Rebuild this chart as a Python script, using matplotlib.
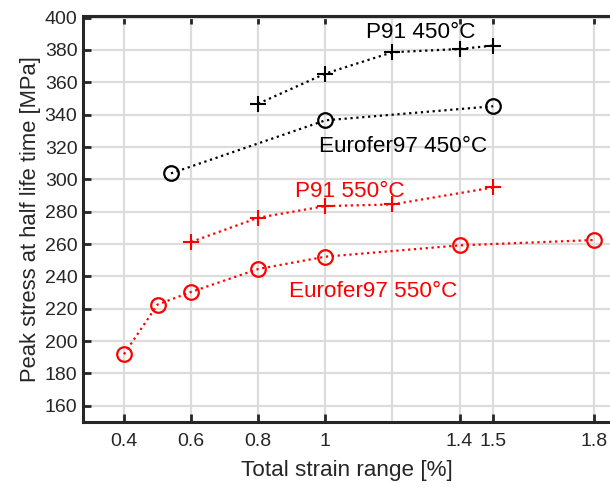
import matplotlib
matplotlib.use("Agg")
import matplotlib.pyplot as plt
from matplotlib.ticker import FixedLocator

plt.rcParams['font.family'] = ['Liberation Sans', 'DejaVu Sans']

# Data
p91_450_x = [0.8, 1.0, 1.2, 1.4, 1.5]
p91_450_y = [346.8, 365.4, 378.6, 380.6, 382.7]
eu_450_x = [0.54, 1.0, 1.5]
eu_450_y = [303.7, 336.5, 345.2]
p91_550_x = [0.6, 0.8, 1.0, 1.2, 1.5]
p91_550_y = [261.3, 276.3, 283.5, 284.5, 295.0]
eu_550_x = [0.4, 0.5, 0.6, 0.8, 1.0, 1.4, 1.8]
eu_550_y = [191.9, 222.6, 230.4, 244.6, 252.2, 259.2, 262.5]

xticks = [0.4, 0.6, 0.8, 1, 1.4, 1.5, 1.8]
xticklabels = ['0.4', '0.6', '0.8', '1', '1.4', '1.5', '1.8']
yticks = list(range(160, 401, 20))

fig = plt.figure(figsize=(6.1, 4.87), dpi=100)
ax = fig.add_axes([83/610, (487-422)/487, 1 - 83/610, (422-16)/487])

ax.plot(p91_450_x, p91_450_y, ':', color='black', lw=1.6, marker='+', ms=12, mew=1.5)
ax.plot(eu_450_x, eu_450_y, ':', color='black', lw=1.6, marker='o', ms=10.5, mew=1.6, mfc='none')
ax.plot(p91_550_x, p91_550_y, ':', color='red', lw=1.6, marker='+', ms=12, mew=1.5)
ax.plot(eu_550_x, eu_550_y, ':', color='red', lw=1.6, marker='o', ms=10.5, mew=1.6, mfc='none')

fs = 16.2
ax.text(1.285, 387.2, 'P91 450°C', color='black', fontsize=fs, ha='center', va='baseline')
ax.text(1.231, 317.2, 'Eurofer97 450°C', color='black', fontsize=fs, ha='center', va='baseline')
ax.text(1.072, 289.2, 'P91 550°C', color='red', fontsize=fs, ha='center', va='baseline')
ax.text(1.143, 227.0, 'Eurofer97 550°C', color='red', fontsize=fs, ha='center', va='baseline')

ax.set_xlim(0.278, 1.848)
ax.set_ylim(150, 401)
ax.set_xticks(xticks)
ax.set_xticklabels(xticklabels)
ax.xaxis.set_minor_locator(FixedLocator([1.2]))
ax.set_yticks(yticks)

ax.grid(True, which='major', color='#dcdcdc', lw=1.6)
ax.grid(True, which='minor', axis='x', color='#dcdcdc', lw=1.6)
ax.set_axisbelow(True)

ax.tick_params(axis='both', which='major', direction='in', length=6, width=2,
               labelsize=14, labelcolor='#262626', color='#262626', top=True, right=False)
ax.tick_params(axis='x', which='minor', length=0)
ax.tick_params(axis='x', pad=8)
ax.tick_params(axis='y', pad=4)

for s in ['left', 'bottom', 'top']:
    ax.spines[s].set_linewidth(2.2)
    ax.spines[s].set_color('#262626')
ax.spines['right'].set_visible(False)

ax.set_xlabel('Total strain range [%]', fontsize=16.2, color='#262626', labelpad=7)
ax.set_ylabel('Peak stress at half life time [MPa]', fontsize=15.8, color='#262626')
ax.yaxis.set_label_coords(-0.08, 0.5)

fig.savefig('out.png', dpi=100)
